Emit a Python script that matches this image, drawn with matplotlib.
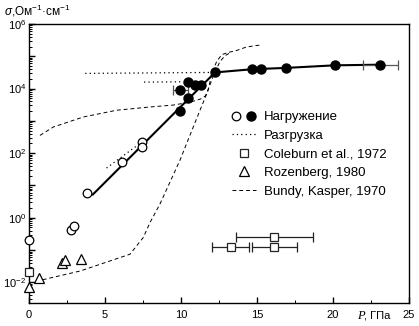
import numpy as np
import matplotlib
matplotlib.use("Agg")
import matplotlib.pyplot as plt
from matplotlib.lines import Line2D
from matplotlib.legend_handler import HandlerTuple
from matplotlib.ticker import FixedLocator, MultipleLocator, NullFormatter

plt.rcParams['font.family'] = ['Liberation Sans', 'DejaVu Sans']
plt.rcParams['mathtext.fontset'] = 'custom'
plt.rcParams['mathtext.rm'] = 'Liberation Sans'
plt.rcParams['mathtext.it'] = 'Liberation Sans:italic'

# loading, open circles (P in GPa, log10 sigma)
open_p = [0.0, 2.76, 2.98, 3.84, 6.1, 7.41, 7.45]
open_lg = [-0.69, -0.37, -0.25, 0.78, 1.74, 2.35, 2.19]

# loading, filled circles
fill_p = [9.93, 9.93, 10.44, 10.44, 10.92, 11.3, 12.24, 14.7, 15.26, 16.9, 20.13, 23.1]
fill_lg = [3.31, 3.96, 4.2, 3.70, 4.11, 4.11, 4.5, 4.61, 4.61, 4.64, 4.73, 4.74]

# filled points with horizontal error bars
fe_p = [9.93, 23.1]
fe_lg = [3.96, 4.74]
fe_lo = [0.48, 1.1]
fe_hi = [0.51, 1.2]

# solid trend line through loading data
fit_p = [4.2, 12.24, 14.7, 16.9, 20.1, 23.1]
fit_lg = [0.72, 4.5, 4.6, 4.64, 4.72, 4.74]

# unloading (dotted)
unl1_p = [3.7, 12.0]
unl1_lg = [4.47, 4.5]
unl2_p = [7.57, 10.1]
unl2_lg = [4.2, 4.21]
unl3_p = [5.1, 7.3]
unl3_lg = [1.54, 2.3]

# Coleburn et al., 1972
col_p = [0.0, 16.12, 13.27, 16.12]
col_lg = [-1.67, -0.59, -0.90, -0.90]
col_lo = [0.0, 2.52, 1.21, 1.42]
col_hi = [0.0, 2.58, 1.23, 1.48]

# Rozenberg, 1980
roz_p = [0.02, 0.68, 2.17, 2.37, 3.4]
roz_lg = [-2.15, -1.86, -1.39, -1.32, -1.29]

# Bundy, Kasper, 1970
bk1_p = [0.72, 1.6, 3.57, 5.77, 7.96, 9.5, 10.6, 11.3, 11.6, 11.9, 12.24, 12.57, 12.9, 13.2]
bk1_lg = [2.55, 2.81, 3.12, 3.33, 3.43, 3.49, 3.58, 3.68, 3.77, 4.11, 4.53, 4.84, 5.02, 5.1]
bk2_p = [0.9, 3.36, 6.64, 7.52, 7.96, 8.62, 9.93, 11.25, 11.8, 12.02, 12.35, 12.68, 13.11,
         13.66, 14.32, 15.09, 15.3]
bk2_lg = [-1.92, -1.65, -1.13, -0.61, -0.15, 0.43, 1.78, 3.33, 3.96, 4.48, 4.84, 5.05, 5.12,
          5.18, 5.29, 5.34, 5.35]

ytick_pow = [-2, -1, 0, 1, 2, 3, 4, 5, 6]


def v(lg):
    return 10.0 ** np.array(lg)


fig = plt.figure(figsize=(4.19, 3.26), dpi=100)
ax = fig.add_axes([29 / 419, 1 - 303 / 326, 380 / 419, 279 / 326])

# Bundy curves
ax.plot(bk1_p, v(bk1_lg), color='k', ls=(0, (4, 3)), lw=0.7)
ax.plot(bk2_p, v(bk2_lg), color='k', ls=(0, (4, 3)), lw=0.7)

# unloading
for p, lg in [(unl1_p, unl1_lg), (unl2_p, unl2_lg), (unl3_p, unl3_lg)]:
    ax.plot(p, v(lg), color='k', ls=(0, (1, 2.5)), lw=0.9)

# fit line
ax.plot(fit_p, v(fit_lg), color='k', lw=1.5)

# error bars
ax.errorbar(fe_p, v(fe_lg), xerr=[fe_lo, fe_hi], fmt='none', ecolor='#555555',
            elinewidth=0.9, capsize=3.5, capthick=0.9)
ax.errorbar(col_p[1:], v(col_lg[1:]), xerr=[col_lo[1:], col_hi[1:]], fmt='none',
            ecolor='#222222', elinewidth=0.9, capsize=3.5, capthick=0.9)

# markers
ax.plot(fill_p, v(fill_lg), 'o', color='k', ms=6.5, clip_on=False, zorder=4)
ax.plot(open_p, v(open_lg), 'o', mfc='white', mec='k', mew=0.9, ms=6.2, clip_on=False, zorder=4)
ax.plot(col_p, v(col_lg), 's', mfc='white', mec='#222222', mew=0.9, ms=5.5, clip_on=False, zorder=4)
ax.plot(roz_p, v(roz_lg), '^', mfc='white', mec='k', mew=0.9, ms=7.5, clip_on=False, zorder=4)

ax.set_xlim(0, 25)
ax.set_yscale('log')
ax.set_ylim(10 ** -2.64, 1e6)

ax.xaxis.set_major_locator(FixedLocator([0, 5, 10, 15, 20, 25]))
ax.xaxis.set_minor_locator(MultipleLocator(2.5))
ax.set_xticklabels(['0', '5', '10', '15', '20', '25'])
ax.yaxis.set_major_locator(FixedLocator(v(ytick_pow)))
minor = [m * 10.0 ** k for k in range(-3, 6) for m in range(2, 10)]
ax.yaxis.set_minor_locator(FixedLocator([t for t in minor if 10 ** -2.64 < t < 1e6]))
ax.yaxis.set_minor_formatter(NullFormatter())
ax.set_yticklabels([('$10^{%d}$' % k) if k % 2 == 0 else '' for k in ytick_pow])

ax.tick_params(which='both', direction='in', top=False, right=False, labelsize=8)
ax.tick_params(which='major', length=4.5, width=1.0)
ax.tick_params(which='minor', length=2.5, width=0.7)
ax.tick_params(axis='x', pad=5)
ax.tick_params(axis='y', pad=2)
for s in ax.spines.values():
    s.set_linewidth(1.0)

# axis titles
fig.text(4 / 419, 1 - 11 / 326, '$\\sigma$,Ом$^{-1}$·см$^{-1}$', fontsize=8.5, va='center', ha='left')
fig.text(357 / 419, 1 - 316 / 326, 'P', fontsize=9, family='Liberation Serif', style='italic',
         va='center', ha='left')
fig.text(364 / 419, 1 - 316 / 326, ', ГПа', fontsize=8, va='center', ha='left')

# legend
h_load = (Line2D([], [], marker='o', ls='none', mfc='white', mec='k', mew=0.9, ms=6.2),
          Line2D([], [], marker='o', ls='none', color='k', ms=6.5))
h_unl = Line2D([], [], color='k', ls=(0, (1, 2.5)), lw=0.9)
h_col = Line2D([], [], marker='s', ls='none', mfc='white', mec='#222222', mew=0.9, ms=5.5)
h_roz = Line2D([], [], marker='^', ls='none', mfc='white', mec='k', mew=0.9, ms=7.5)
h_bk = Line2D([], [], color='k', ls=(0, (4, 3)), lw=0.7)
leg = ax.legend([h_load, h_unl, h_col, h_roz, h_bk],
                ['Нагружение', 'Разгрузка', 'Coleburn et al., 1972', 'Rozenberg, 1980',
                 'Bundy, Kasper, 1970'],
                handler_map={tuple: HandlerTuple(ndivide=None, pad=0.5)},
                loc='upper left', bbox_to_anchor=(232 / 419, 1 - 111 / 326),
                bbox_transform=fig.transFigure, frameon=False, fontsize=9.5,
                handlelength=1.8, handletextpad=0.6, labelspacing=0.48,
                borderpad=0, borderaxespad=0)

fig.savefig('out.png', dpi=100)
